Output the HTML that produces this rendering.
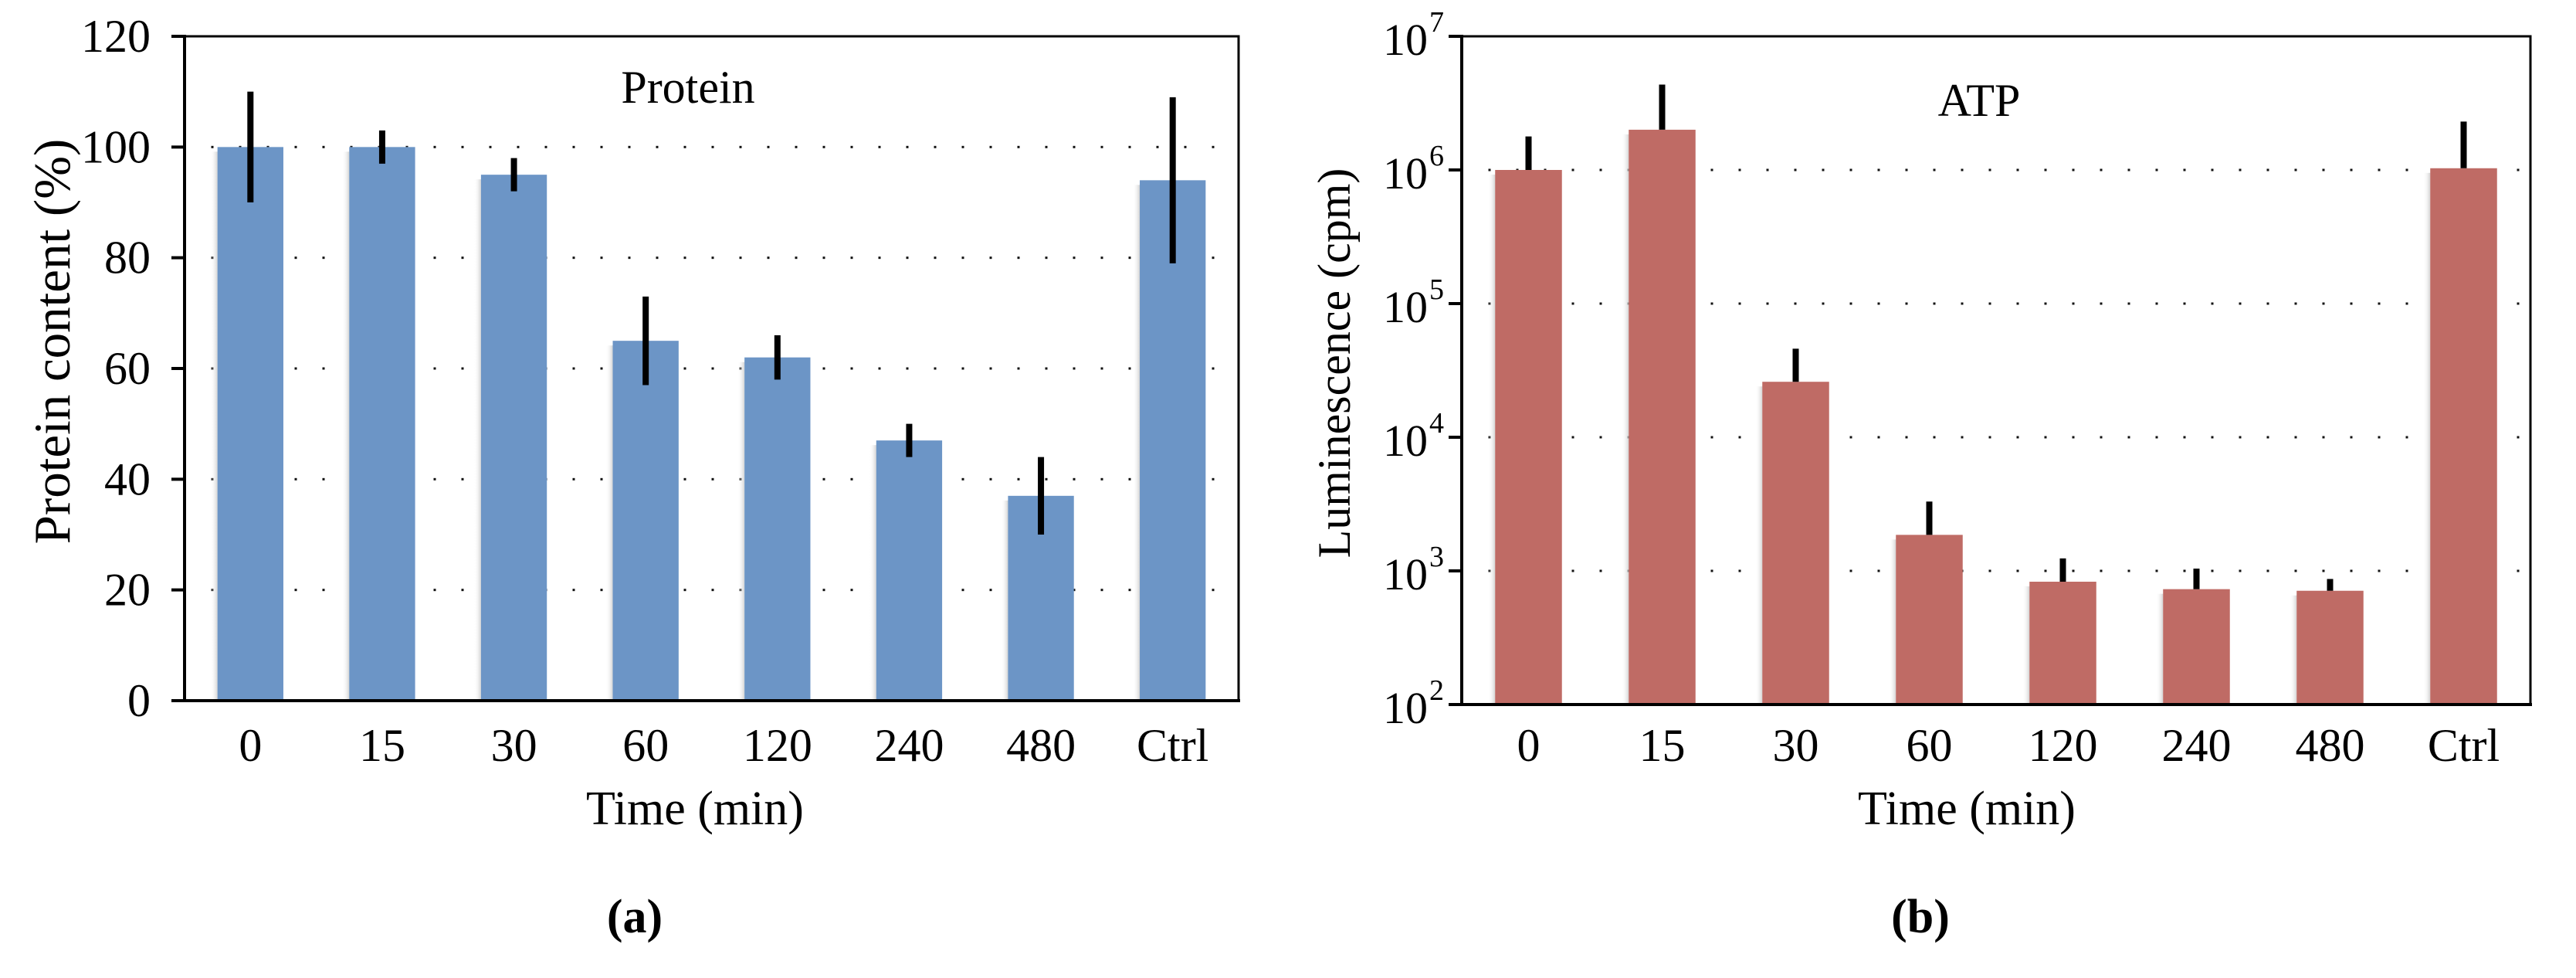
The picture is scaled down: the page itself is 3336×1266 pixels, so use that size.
<!DOCTYPE html>
<html><head><meta charset="utf-8"><style>
html,body{margin:0;padding:0;background:#fff;}
svg{display:block;font-family:"Liberation Serif",serif;}
</style></head><body>
<svg id="fig" width="3336" height="1266" viewBox="0 0 3336 1266" xmlns="http://www.w3.org/2000/svg">
<defs>
<linearGradient id="shadow" x1="0" x2="1" y1="0" y2="0">
<stop offset="0" stop-color="#fff" stop-opacity="0"/><stop offset="1" stop-color="#c8c8c8" stop-opacity="0.8"/>
</linearGradient>
</defs>
<g id="chartA"></g>
<g id="chartB"></g>
</svg>
<script>
const categories = ["0","15","30","60","120","240","480","Ctrl"];
const proteinValues = [100,100,95,65,62,47,37,94];
const proteinErrors = [10,3,3,8,4,3,7,15];
const proteinTicks = [0,20,40,60,80,100,120];
const atpValues = [1000000,2000000,26000,1860,830,730,710,1030000];
const atpErrTop = [1780000,4350000,46000,3300,1240,1040,870,2300000];
const atpTickExps = [2,3,4,5,6,7];

const NS = "http://www.w3.org/2000/svg";
function mk(tag, attrs, parent, text){
  const e = document.createElementNS(NS, tag);
  for (const k in attrs) e.setAttribute(k, attrs[k]);
  if (text !== undefined) e.textContent = text;
  parent.appendChild(e);
  return e;
}

function drawChart(g, cfg){
  const {L,R,T,B,yScale,color} = cfg;
  const band = (R-L)/categories.length;
  const xc = i => L + band*(i+0.5);
  const bw = band*0.5;
  cfg.gridVals.forEach(v=>{
    const y = yScale(v);
    for (let x=L+36; x<R-5; x+=36){
      const d = mk("rect",{x:x-1.5,y:y-1.5,width:3,height:3,fill:"#111"},g);
      
      
    }
  });
  cfg.values.forEach((v,i)=>{
    const y = yScale(v);
    const sh = mk("rect",{x:xc(i)-bw/2-9,y:y+6,width:9,height:B-y-6,fill:"url(#shadow)"},g);
    
    
    const r = mk("rect",{x:xc(i)-bw/2,y:y,width:bw,height:B-y,fill:color},g);
    
    
    const lo = cfg.errLow(i), hi = cfg.errHigh(i);
    const e = mk("line",{x1:xc(i),x2:xc(i),y1:yScale(lo),y2:yScale(hi),stroke:"#000","stroke-width":8},g);
    
    
  });
  const fr = mk("rect",{x:L,y:T,width:R-L,height:B-T,fill:"none",stroke:"#000","stroke-width":3},g);
  
  
  const ya = mk("line",{x1:L,x2:L,y1:T-2,y2:B+2,stroke:"#000","stroke-width":4},g);
  
  
  const xa = mk("line",{x1:L-17,x2:R+2,y1:B,y2:B,stroke:"#000","stroke-width":4},g);
  
  
  categories.forEach((c,i)=>{
    const t = mk("text",{x:xc(i),y:985,"font-size":60,"text-anchor":"middle"},g,c);
    
    
  });
}

(function(){
  const g = document.getElementById("chartA");
  const L=239,R=1604,T=47,B=907;
  const yScale = v => B - (v/120)*(B-T);
  drawChart(g,{L,R,T,B,yScale,color:"#6c95c6",values:proteinValues,
    gridVals:[20,40,60,80,100],
    errLow:i=>proteinValues[i]-proteinErrors[i], errHigh:i=>proteinValues[i]+proteinErrors[i]});
  proteinTicks.forEach(v=>{
    const y=yScale(v);
    const tk = mk("line",{x1:L-17,x2:L,y1:y,y2:y,stroke:"#000","stroke-width":4},g);
    
    
    const t = mk("text",{x:195,y:y+20,"font-size":60,"text-anchor":"end"},g,String(v));
    
    
  });
  const tt = mk("text",{x:891,y:133,"font-size":60,"text-anchor":"middle"},g,"Protein");
  
  
  const yt = mk("text",{x:0,y:0,"font-size":67,"text-anchor":"middle",transform:"translate(90,442) rotate(-90)"},g,"Protein content (%)");
  
  
  const xt = mk("text",{x:900,y:1067,"font-size":62,"text-anchor":"middle"},g,"Time (min)");
  
  
  const pl = mk("text",{x:822,y:1207,"font-size":62,"font-weight":"bold","text-anchor":"middle"},g,"(a)");
  
  
})();

(function(){
  const g = document.getElementById("chartB");
  const L=1893,R=3277,T=47,B=912;
  const yScale = v => B - (Math.log10(v)-2)/5*(B-T);
  drawChart(g,{L,R,T,B,yScale,color:"#bf6b65",values:atpValues,
    gridVals:[1e3,1e4,1e5,1e6],
    errLow:i=>atpValues[i], errHigh:i=>atpErrTop[i]});
  atpTickExps.forEach(e=>{
    const y=yScale(Math.pow(10,e));
    const tk = mk("line",{x1:L-17,x2:L,y1:y,y2:y,stroke:"#000","stroke-width":4},g);
    
    
    const t = mk("text",{x:1849,y:y+24,"font-size":58,"text-anchor":"end"},g,"10");
    
    
    const s = mk("text",{x:1851,y:y-6,"font-size":38,"text-anchor":"start"},g,String(e));
    
    
  });
  const tt = mk("text",{x:2563,y:150,"font-size":60,"text-anchor":"middle"},g,"ATP");
  
  
  const yt = mk("text",{x:0,y:0,"font-size":60,"text-anchor":"middle",transform:"translate(1748,470) rotate(-90)"},g,"Luminescence (cpm)");
  
  
  const xt = mk("text",{x:2547,y:1067,"font-size":62,"text-anchor":"middle"},g,"Time (min)");
  
  
  const pl = mk("text",{x:2487,y:1207,"font-size":62,"font-weight":"bold","text-anchor":"middle"},g,"(b)");
  
  
})();
</script>
</body></html>
